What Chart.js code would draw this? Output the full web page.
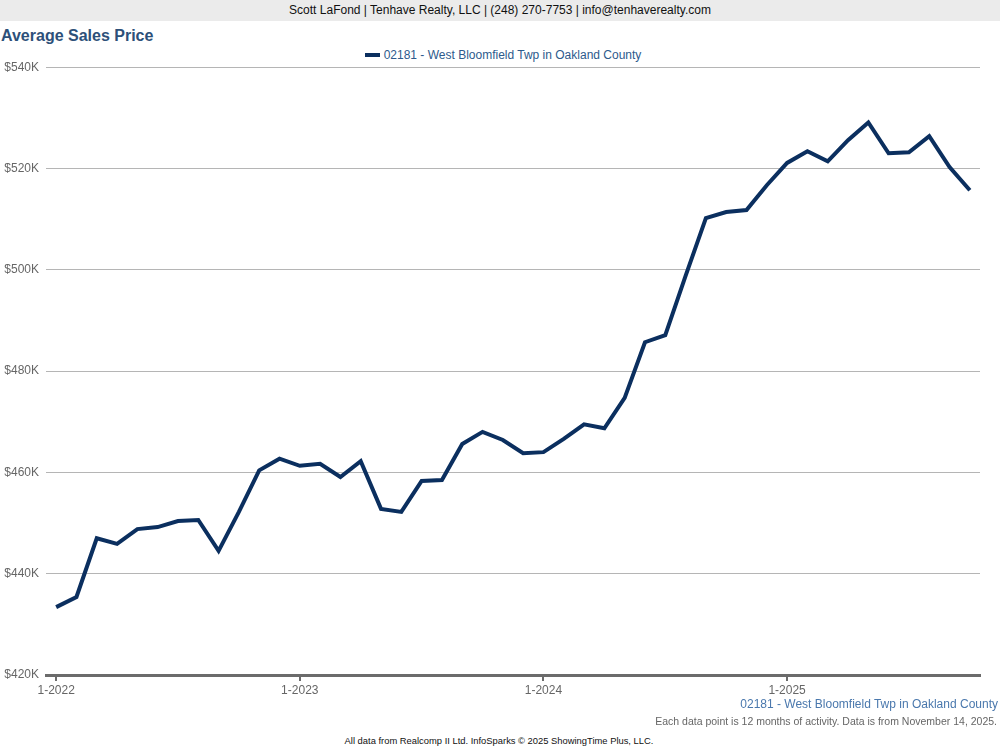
<!DOCTYPE html>
<html>
<head>
<meta charset="utf-8">
<script src="https://cdn.jsdelivr.net/npm/chart.js@4"></script>
<style>
  body { margin: 0; width: 1000px; height: 750px; position: relative; background: #fff; font-family: "Liberation Sans", Arial, sans-serif; overflow: hidden; }
  #header { position: absolute; left: 0; top: 0; width: 1000px; height: 21px; background: #ebebeb; text-align: center; font-size: 12px; line-height: 21px; color: #111; }
  #title { position: absolute; left: 1px; top: 27px; font-size: 16px; font-weight: bold; color: #2d5079; }
  #legend { position: absolute; left: 0; width: 1006px; top: 48px; text-align: center; font-size: 12px; color: #2d5a8c; }
  #legend .sw { display: inline-block; width: 15px; height: 4px; background: #0b2f5f; vertical-align: middle; margin-right: 4px; margin-top: -2px; }
  #chartBox { position: absolute; left: 0; top: 53px; width: 1000px; height: 657px; }
  #area { position: absolute; right: 2px; top: 697px; font-size: 12px; color: #4a78ad; }
  #note { position: absolute; right: 3px; top: 715px; font-size: 10.5px; color: #666; }
  #source { position: absolute; left: 0; width: 998px; top: 735px; text-align: center; font-size: 9.4px; color: #111; }
</style>
</head>
<body>
<div id="header">Scott LaFond | Tenhave Realty, LLC | (248) 270-7753 | info@tenhaverealty.com</div>
<div id="title">Average Sales Price</div>
<div id="legend"><span class="sw"></span>02181 - West Bloomfield Twp in Oakland County</div>
<div id="chartBox"><canvas id="salesChart"></canvas></div>
<div id="area">02181 - West Bloomfield Twp in Oakland County</div>
<div id="note">Each data point is 12 months of activity. Data is from November 14, 2025.</div>
<div id="source">All data from Realcomp II Ltd. InfoSparks © 2025 ShowingTime Plus, LLC.</div>

<script>
// 월별 카테고리 (1-2022 ~ 10-2025)
const months = [
  '1-2022', '2-2022', '3-2022', '4-2022', '5-2022', '6-2022', '7-2022', '8-2022', '9-2022', '10-2022', '11-2022', '12-2022',
  '1-2023', '2-2023', '3-2023', '4-2023', '5-2023', '6-2023', '7-2023', '8-2023', '9-2023', '10-2023', '11-2023', '12-2023',
  '1-2024', '2-2024', '3-2024', '4-2024', '5-2024', '6-2024', '7-2024', '8-2024', '9-2024', '10-2024', '11-2024', '12-2024',
  '1-2025', '2-2025', '3-2025', '4-2025', '5-2025', '6-2025', '7-2025', '8-2025', '9-2025', '10-2025'
];

// 평균 판매가 (12개월 이동)
const avgPrice = [
  433400, 435400, 447000, 445900, 448800, 449200, 450400, 450600, 444500, 452200, 460400, 462700,
  461300, 461700, 459100, 462200, 452800, 452200, 458300, 458500, 465600, 468000, 466400, 463800,
  464000, 466600, 469500, 468700, 474700, 485700, 487100, 498800, 510200, 511400, 511800, 516700,
  521100, 523400, 521400, 525600, 529100, 523000, 523200, 526400, 520300, 515700
];

// x축에 표시할 라벨
const xTickLabels = ['1-2022', '1-2023', '1-2024', '1-2025'];

const yMin = 420000;
const yMax = 540000;
const yStep = 20000;

const lineColor = '#0b2f5f';

new Chart(document.getElementById('salesChart').getContext('2d'), {
  type: 'line',
  data: {
    labels: months,
    datasets: [{
      label: '02181 - West Bloomfield Twp in Oakland County',
      data: avgPrice,
      borderColor: lineColor,
      backgroundColor: lineColor,
      borderWidth: 4,
      pointRadius: 0,
      tension: 0,
      fill: false
    }]
  },
  options: {
    responsive: true,
    maintainAspectRatio: false,
    animation: false,
    layout: { padding: { left: 0, right: 20, top: 0, bottom: 0 } },
    plugins: { legend: { display: false }, tooltip: { enabled: false } },
    scales: {
      x: {
        offset: true,
        afterFit: (scale) => { scale.height = 35; },
        border: { color: '#6b6b6b', width: 3 },
        grid: {
          offset: false,
          drawOnChartArea: false,
          tickLength: 6,
          lineWidth: 2,
          color: (ctx) => xTickLabels.includes(months[ctx.index]) ? '#6b6b6b' : 'rgba(0,0,0,0)'
        },
        ticks: {
          autoSkip: false,
          maxRotation: 0,
          padding: 2,
          color: '#666',
          font: { family: '"Liberation Sans", Arial, sans-serif', size: 12 },
          callback: function (value) {
            const lab = months[value];
            return xTickLabels.includes(lab) ? lab : '';
          }
        }
      },
      y: {
        min: yMin,
        max: yMax,
        afterFit: (scale) => { scale.width = 46; },
        border: { display: false },
        grid: { color: '#b5b5b5', lineWidth: 1, drawTicks: false },
        ticks: {
          stepSize: yStep,
          padding: 7,
          color: '#666',
          font: { family: '"Liberation Sans", Arial, sans-serif', size: 12 },
          callback: (v) => '$' + (v / 1000) + 'K'
        }
      }
    }
  }
});
</script>
</body>
</html>
